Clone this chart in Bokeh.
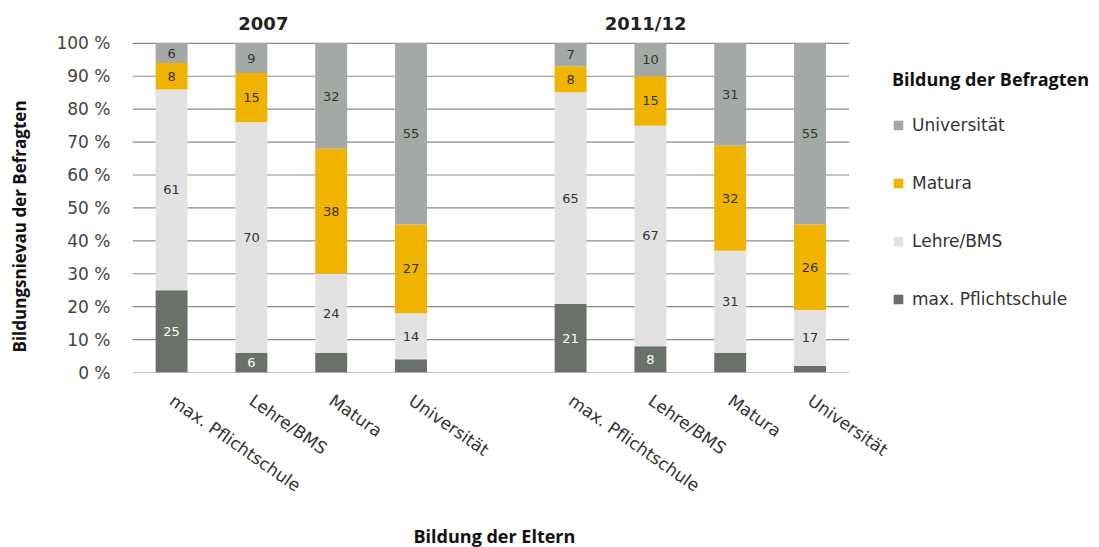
from bokeh.plotting import figure
from bokeh.models import ColumnDataSource, FixedTicker, Legend, LegendItem, Title
from bokeh.core.properties import value
from bokeh.embed import file_html
from bokeh.resources import INLINE

# ---- data ----
years = ["2007", "2011/12"]
parents = ["max. Pflichtschule", "Lehre/BMS", "Matura", "Universität"]
levels = ["max. Pflichtschule", "Lehre/BMS", "Matura", "Universität"]

pfl_2007 = [25, 6, 6, 4]
lehre_2007 = [61, 70, 24, 14]
matura_2007 = [8, 15, 38, 27]
uni_2007 = [6, 9, 32, 55]

pfl_2011 = [21, 8, 6, 2]
lehre_2011 = [65, 67, 31, 17]
matura_2011 = [8, 15, 32, 26]
uni_2011 = [7, 10, 31, 55]

pfl_labeled = [True, True, False, False]
y_ticks = [0, 10, 20, 30, 40, 50, 60, 70, 80, 90, 100]

colors = ["#6a716a", "#e2e2e2", "#f0b400", "#a5a9a5"]
FONT = "DejaVu Sans"
BOLD = "Open Sans"

# ---- build table (bar heights normalised to 100 %) ----
GROUP_GAP = 5
stack_keys = ["pfl", "lehre", "matura", "uni"]
xs, tick_labels = [], {}
raw = {k: [] for k in stack_keys}
series = [(pfl_2007, lehre_2007, matura_2007, uni_2007),
          (pfl_2011, lehre_2011, matura_2011, uni_2011)]
for g, ser in enumerate(series):
    for i, name in enumerate(parents):
        x = g * GROUP_GAP + i
        xs.append(x)
        tick_labels[x] = name
        for k, key in enumerate(stack_keys):
            raw[key].append(ser[k][i])

cols = {k: [] for k in stack_keys}
for j in range(len(xs)):
    tot = sum(raw[k][j] for k in stack_keys)
    for k in stack_keys:
        cols[k].append(raw[k][j] * 100.0 / tot)

src = ColumnDataSource(dict(x=xs, **cols))

PX_PER_UNIT = 79.8
x_start = xs[0] - 0.49
x_stop = xs[-1] + 0.49
x_end = x_start + 967 / PX_PER_UNIT   # frame extends under the legend area

p = figure(width=1099, height=547, x_range=(x_start, x_end), y_range=(0, 111.5),
           output_backend="svg", toolbar_location=None,
           min_border_left=132, min_border_right=0, min_border_top=5,
           min_border_bottom=175)
p.outline_line_color = None
p.background_fill_color = "white"
p.border_fill_color = "white"

# ---- grid lines across the bar area only ----
p.xgrid.visible = False
p.ygrid.visible = False
p.segment(x0=[x_start] * len(y_ticks), x1=[x_stop] * len(y_ticks),
          y0=y_ticks, y1=y_ticks, line_color="#8c8c8c", line_width=1.2)

rs = p.vbar_stack(stack_keys, x="x", width=0.4, color=colors, line_color=None,
                  source=src)

# ---- segment labels ----
lx, ly, lt, lc = [], [], [], []
for j in range(len(xs)):
    base = 0
    for key in stack_keys:
        v = cols[key][j]
        show = pfl_labeled[j % 4] if key == "pfl" else True
        if show:
            lx.append(xs[j])
            ly.append(base + v / 2)
            lt.append(str(raw[key][j]))
            lc.append("white" if key == "pfl" else "#333333")
        base += v
lab_src = ColumnDataSource(dict(x=lx, y=ly, t=lt, c=lc))
p.text(x="x", y="y", text="t", source=lab_src, text_color="c",
       text_align="center", text_baseline="middle", text_font=value(FONT),
       text_font_size="13px")

# ---- year titles (inside the frame, above 100 %) ----
title_offsets = [1.15, 0.94]
title_x = [g * GROUP_GAP + title_offsets[g] for g in range(len(years))]
p.text(x=title_x, y=[106] * len(years), text=years, text_align="center",
       text_baseline="middle", text_font=value(FONT), text_font_style="bold",
       text_font_size="18px", text_color="#222222")

# ---- axes ----
ya = p.yaxis[0]
ya.ticker = FixedTicker(ticks=y_ticks)
ya.major_label_overrides = {t: f"{t} %" for t in y_ticks}
ya.axis_line_color = None
ya.major_tick_line_color = None
ya.minor_tick_line_color = None
ya.major_tick_out = 0
ya.major_label_standoff = 22
ya.major_label_text_font = FONT
ya.major_label_text_font_size = "17px"
ya.major_label_text_color = "#444444"
ya.axis_label = " "
ya.axis_label_text_font_size = "6px"
ya.axis_label_standoff = 14

ytitle = Title(text="Bildungsnievau der Befragten", align="left", offset=20,
               standoff=0, text_font=BOLD, text_font_style="bold",
               text_font_size="17px", text_color="#111111")
p.add_layout(ytitle, "left")

xa = p.xaxis[0]
xa.ticker = FixedTicker(ticks=xs)
xa.major_label_overrides = tick_labels
xa.major_label_orientation = -0.61
xa.axis_line_color = None
xa.major_tick_line_color = None
xa.minor_tick_line_color = None
xa.major_tick_out = 0
xa.major_label_standoff = 26
xa.major_label_text_font = FONT
xa.major_label_text_font_size = "17px"
xa.major_label_text_color = "#333333"
xa.axis_label = " "
xa.axis_label_text_font_size = "6px"
xa.axis_label_standoff = 6

xtitle = Title(text="Bildung der Eltern", align="left", offset=281, standoff=0,
               text_font=BOLD, text_font_style="bold", text_font_size="18px",
               text_color="#111111")
p.add_layout(xtitle, "below")

# ---- legend ----
items = [LegendItem(label=levels[k], renderers=[rs[k]]) for k in [3, 2, 1, 0]]
leg = Legend(items=items, location=(760, 63), title="Bildung der Befragten",
             title_text_font=BOLD, title_text_font_style="bold",
             title_text_font_size="18px", title_text_color="#111111",
             title_standoff=24, label_text_font=FONT, label_text_font_size="17px",
             label_text_color="#333333", glyph_width=12, glyph_height=12,
             label_height=12, label_standoff=8, spacing=38, padding=0, margin=0,
             border_line_color=None, background_fill_alpha=0)
p.add_layout(leg, "center")

open("out.html", "w").write(file_html(p, INLINE))
